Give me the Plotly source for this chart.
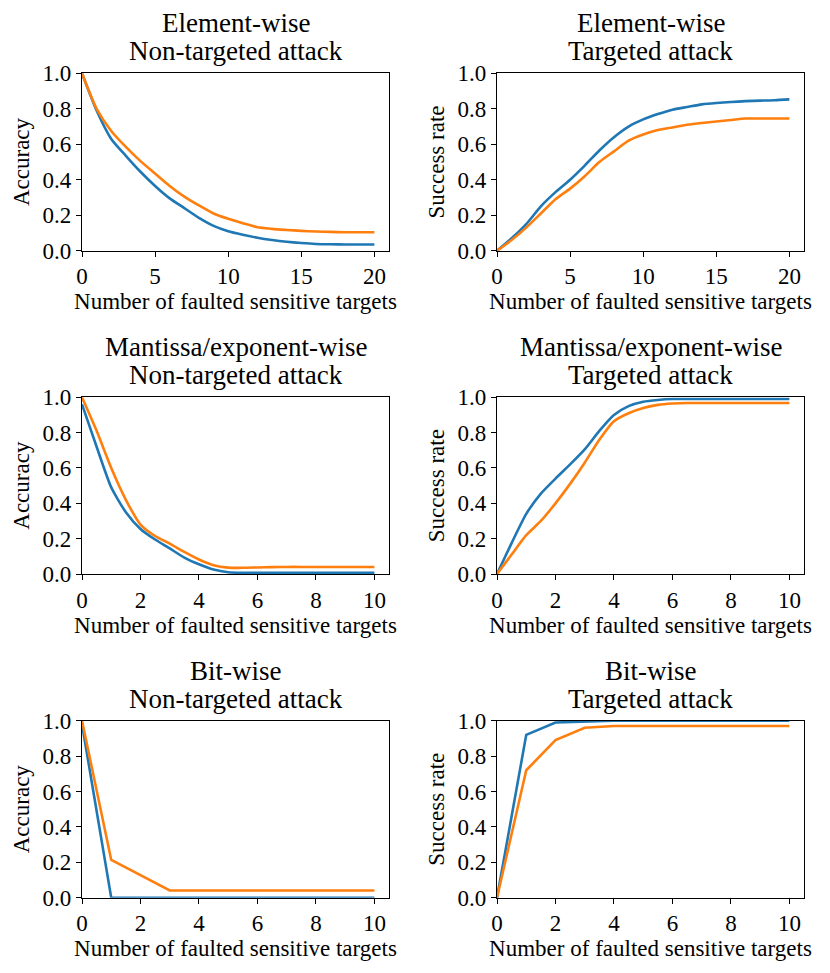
import plotly.graph_objects as go

# element-wise (integer steps 0..20)
x_elem = list(range(21))
elem_nt_blue = [1.0, 0.79, 0.63, 0.535, 0.445, 0.365, 0.295, 0.24, 0.185, 0.14,
                0.11, 0.09, 0.073, 0.06, 0.05, 0.043, 0.038, 0.036, 0.035, 0.035, 0.035]
elem_nt_orange = [1.0, 0.8, 0.675, 0.585, 0.505, 0.435, 0.365, 0.305, 0.255, 0.21,
                  0.18, 0.155, 0.132, 0.123, 0.117, 0.112, 0.108, 0.106, 0.104, 0.104, 0.104]
elem_t_blue = [0.0, 0.07, 0.15, 0.25, 0.33, 0.40, 0.48, 0.565, 0.64, 0.70,
               0.74, 0.77, 0.795, 0.81, 0.825, 0.833, 0.838, 0.843, 0.846, 0.848, 0.853]
elem_t_orange = [0.0, 0.06, 0.13, 0.21, 0.29, 0.35, 0.42, 0.50, 0.56, 0.62,
                 0.655, 0.68, 0.695, 0.71, 0.72, 0.728, 0.737, 0.745, 0.745, 0.745, 0.745]

# mantissa/exponent-wise (half steps 0..10)
x_mant = [i * 0.5 for i in range(21)]
mant_nt_blue = [0.96, 0.72, 0.49, 0.35, 0.255, 0.195, 0.145, 0.093, 0.055, 0.025,
                0.01, 0.007, 0.007, 0.007, 0.007, 0.007, 0.007, 0.007, 0.007, 0.007, 0.007]
mant_nt_orange = [1.0, 0.81, 0.60, 0.42, 0.28, 0.215, 0.172, 0.125, 0.082, 0.05,
                  0.036, 0.035, 0.037, 0.039, 0.04, 0.04, 0.04, 0.04, 0.04, 0.04, 0.04]
mant_t_blue = [0.0, 0.175, 0.34, 0.455, 0.54, 0.62, 0.705, 0.81, 0.90, 0.95,
               0.975, 0.985, 0.99, 0.99, 0.99, 0.99, 0.99, 0.99, 0.99, 0.99, 0.99]
mant_t_orange = [0.0, 0.11, 0.22, 0.30, 0.40, 0.51, 0.63, 0.76, 0.865, 0.91,
                 0.94, 0.957, 0.965, 0.968, 0.968, 0.968, 0.968, 0.968, 0.968, 0.968, 0.968]

# bit-wise (integer steps 0..10)
x_bit = list(range(11))
bit_nt_blue = [0.98, 0.0, 0.0, 0.0, 0.0, 0.0, 0.0, 0.0, 0.0, 0.0, 0.0]
bit_nt_orange = [1.0, 0.213, 0.128, 0.041, 0.041, 0.041, 0.041, 0.041, 0.041, 0.041, 0.041]
bit_t_blue = [0.0, 0.92, 0.99, 0.997, 1.0, 1.0, 1.0, 1.0, 1.0, 1.0, 1.0]
bit_t_orange = [0.0, 0.72, 0.89, 0.96, 0.97, 0.97, 0.97, 0.97, 0.97, 0.97, 0.97]

row_names = ["Element-wise", "Mantissa/exponent-wise", "Bit-wise"]
col_names = ["Non-targeted attack", "Targeted attack"]
y_titles = ["Accuracy", "Success rate"]
x_title = "Number of faulted sensitive targets"

panels = [
    (x_elem, elem_nt_blue, elem_nt_orange), (x_elem, elem_t_blue, elem_t_orange),
    (x_mant, mant_nt_blue, mant_nt_orange), (x_mant, mant_t_blue, mant_t_orange),
    (x_bit, bit_nt_blue, bit_nt_orange), (x_bit, bit_t_blue, bit_t_orange),
]
x_ranges = [[0, 21], [0, 10.5], [0, 10.5]]
x_ticks = [[0, 5, 10, 15, 20], [0, 2, 4, 6, 8, 10], [0, 2, 4, 6, 8, 10]]
# bit-wise curves are straight segments, the others are smooth in the original
line_shapes = ["spline", "spline", "linear"]

W, H = 830, 973
OFF = 8  # page body margin shifts the plot, compensate
col_px = [(82 - OFF, 389 - OFF), (497 - OFF, 804 - OFF)]
row_px = [(73.3 - OFF, 250.7 - OFF), (397.3 - OFF, 574.0 - OFF), (720.7 - OFF, 897.7 - OFF)]

BLUE = "#1f77b4"
ORANGE = "#ff7f0e"
FONT = "Liberation Serif"

fig = go.Figure()
annotations = []
layout_axes = {}

for i, (xs, yb, yo) in enumerate(panels):
    r, c = divmod(i, 2)
    n = i + 1
    xa = "x" if n == 1 else f"x{n}"
    ya = "y" if n == 1 else f"y{n}"
    shape = line_shapes[r]
    fig.add_trace(go.Scatter(x=xs, y=yb, mode="lines", xaxis=xa, yaxis=ya,
                             line=dict(color=BLUE, width=2.6, shape=shape,
                                       smoothing=0.6),
                             showlegend=False))
    fig.add_trace(go.Scatter(x=xs, y=yo, mode="lines", xaxis=xa, yaxis=ya,
                             line=dict(color=ORANGE, width=2.6, shape=shape,
                                       smoothing=0.6),
                             showlegend=False))

    x0, x1 = col_px[c]
    top, bot = row_px[r]
    common = dict(showline=True, linecolor="black", linewidth=1.2, mirror=True,
                  ticks="outside", ticklen=5, tickwidth=1.1, tickcolor="black",
                  showgrid=False, zeroline=False, automargin=False,
                  tickfont=dict(family=FONT, size=23, color="black"))
    layout_axes["xaxis" if n == 1 else f"xaxis{n}"] = dict(
        domain=[x0 / W, x1 / W], anchor=ya, range=x_ranges[r],
        tickvals=x_ticks[r],
        title=dict(text=x_title, standoff=2,
                   font=dict(family=FONT, size=23, color="black")),
        **common)
    layout_axes["yaxis" if n == 1 else f"yaxis{n}"] = dict(
        domain=[1 - bot / H, 1 - top / H], anchor=xa, range=[0, 1],
        tickvals=[0, 0.2, 0.4, 0.6, 0.8, 1.0], tickformat=".1f",
        title=dict(text=y_titles[c], standoff=6,
                   font=dict(family=FONT, size=23, color="black")),
        **common)

    # two-line panel title, one annotation per line for tight spacing
    for txt, dy in [(row_names[r], 50), (col_names[c], 22)]:
        annotations.append(dict(
            text=txt, xref="paper", yref="paper",
            x=(x0 + x1) / 2 / W, y=1 - (top - dy) / H,
            xanchor="center", yanchor="middle", showarrow=False,
            font=dict(family=FONT, size=27, color="black")))

fig.update_layout(
    width=W, height=H,
    margin=dict(l=0, r=0, t=0, b=0, autoexpand=False),
    paper_bgcolor="white", plot_bgcolor="white",
    annotations=annotations,
    **layout_axes
)

fig.write_html("out.html")
